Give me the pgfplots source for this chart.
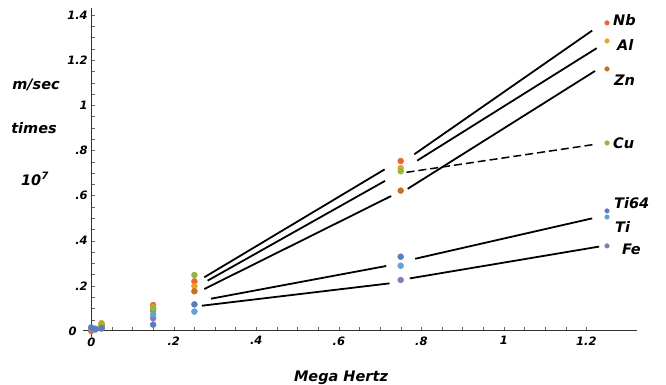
\documentclass[border=0pt]{standalone}
\usepackage{fontspec}
\setmainfont{DejaVu Sans}
\usepackage{pgfplots}
\pgfplotsset{compat=1.18}
\definecolor{cNb}{HTML}{EC6536}
\definecolor{cAl}{HTML}{E9A226}
\definecolor{cZn}{HTML}{C9701E}
\definecolor{cCu}{HTML}{92B63F}
\definecolor{cTi64}{HTML}{5B7DBE}
\definecolor{cTi}{HTML}{5DA5D6}
\definecolor{cFe}{HTML}{8B78B8}
\begin{document}
\begin{tikzpicture}[x=1pt,y=1pt]
\path[use as bounding box] (-83,-48) rectangle (583,337);
\begin{axis}[at={(0,0)}, anchor=south west, scale only axis,
  width=554pt, height=329pt,
  xmin=-0.02, xmax=1.3227, ymin=-0.0266, ymax=1.4311,
  axis lines=middle, axis line style={-, line width=1pt, black!80},
  xtick={0,0.2,0.4,0.6,0.8,1,1.2},
  xticklabels={0,.2,.4,.6,.8,1,1.2},
  ytick={0,0.2,0.4,0.6,0.8,1,1.2,1.4},
  yticklabels={0,.2,.4,.6,.8,1,1.2,1.4},
  minor x tick num=3, minor y tick num=3,
  tick align=inside, tick style={black!60, line width=0.4pt},
  major tick length=4pt, minor tick length=4pt,
  /pgf/number format/assume math mode=true,
  ticklabel style={font=\bfseries\itshape\fontsize{11.5}{13}\selectfont},
  xticklabel style={yshift=-2pt},
  clip=false,
  every axis plot/.append style={mark=*, only marks, mark size=3pt},
]
% Nb
\addplot[cNb, mark options={fill=cNb, draw=cNb}] coordinates {(0,0.0) (0.025,0.02) (0.15,0.115) (0.25,0.220) (0.75,0.753)};
% Al
\addplot[cAl, mark options={fill=cAl, draw=cAl}] coordinates {(0.025,0.035) (0.15,0.105) (0.25,0.199) (0.75,0.722)};
% Zn
\addplot[cZn, mark options={fill=cZn, draw=cZn}] coordinates {(0.025,0.025) (0.15,0.092) (0.25,0.176) (0.75,0.622)};
% Cu
\addplot[cCu, mark options={fill=cCu, draw=cCu}] coordinates {(0.025,0.03) (0.15,0.100) (0.25,0.248) (0.75,0.708)};
% Fe
\addplot[cFe, mark options={fill=cFe, draw=cFe}] coordinates {(0.15,0.056) (0.75,0.226)};
% Ti
\addplot[cTi, mark options={fill=cTi, draw=cTi}] coordinates {(0,0.012) (0.01,0.006) (0.025,0.01) (0.15,0.074) (0.25,0.086) (0.75,0.289)};
% Ti64
\addplot[cTi64, mark options={fill=cTi64, draw=cTi64}] coordinates {(0,0.016) (0.01,0.01) (0.025,0.013) (0.15,0.028) (0.25,0.118) (0.75,0.329)};
% points at 1.25 (smaller)
\addplot[cNb, mark size=2.3pt, mark options={fill=cNb, draw=cNb}] coordinates {(1.25,1.365)};
\addplot[cAl, mark size=2.3pt, mark options={fill=cAl, draw=cAl}] coordinates {(1.25,1.285)};
\addplot[cZn, mark size=2.3pt, mark options={fill=cZn, draw=cZn}] coordinates {(1.25,1.161)};
\addplot[cCu, mark size=2.3pt, mark options={fill=cCu, draw=cCu}] coordinates {(1.25,0.833)};
\addplot[cTi64, mark size=2.3pt, mark options={fill=cTi64, draw=cTi64}] coordinates {(1.25,0.532)};
\addplot[cTi, mark size=2.3pt, mark options={fill=cTi, draw=cTi}] coordinates {(1.25,0.505)};
\addplot[cFe, mark size=2.3pt, mark options={fill=cFe, draw=cFe}] coordinates {(1.25,0.377)};
% line segments
\addplot[black, no marks, sharp plot, line width=1.8pt] coordinates {(0.274,0.238) (0.711,0.716)};
\addplot[black, no marks, sharp plot, line width=1.8pt] coordinates {(0.282,0.223) (0.712,0.665)};
\addplot[black, no marks, sharp plot, line width=1.8pt] coordinates {(0.274,0.186) (0.727,0.598)};
\addplot[black, no marks, sharp plot, line width=1.8pt] coordinates {(0.290,0.143) (0.715,0.288)};
\addplot[black, no marks, sharp plot, line width=1.8pt] coordinates {(0.268,0.112) (0.723,0.211)};
\addplot[black, no marks, sharp plot, line width=1.8pt] coordinates {(0.783,0.783) (1.214,1.331)};
\addplot[black, no marks, sharp plot, line width=1.8pt] coordinates {(0.790,0.755) (1.225,1.253)};
\addplot[black, no marks, sharp plot, line width=1.8pt] coordinates {(0.767,0.630) (1.221,1.152)};
\addplot[black, no marks, sharp plot, line width=1.5pt, dash pattern=on 8pt off 4pt] coordinates {(0.764,0.703) (1.221,0.827)};
\addplot[black, no marks, sharp plot, line width=1.8pt] coordinates {(0.785,0.320) (1.214,0.499)};
\addplot[black, no marks, sharp plot, line width=1.8pt] coordinates {(0.772,0.233) (1.231,0.374)};
\node[font=\bfseries\itshape\fontsize{11.5}{13}\selectfont, anchor=east, inner sep=0pt] at (axis cs:-0.035,0) {0};
\node[font=\bfseries\itshape\fontsize{11.5}{13}\selectfont, anchor=north, inner sep=0pt] at (axis cs:0,-0.03) {0};
\end{axis}
\begin{scope}[every node/.style={font=\bfseries\itshape\fontsize{14.5}{16}\selectfont, anchor=west, inner sep=0pt}]
\node at (530,317) {Nb};
\node at (534,292) {Al};
\node at (531,257) {Zn};
\node at (530,194) {Cu};
\node at (531,134) {Ti64};
\node at (532,110) {Ti};
\node at (539,88) {Fe};
\end{scope}
\begin{scope}[every node/.style={font=\bfseries\itshape\fontsize{14.5}{16}\selectfont, inner sep=0pt}]
\node at (-47,252) {m/sec};
\node at (-49,209) {times};
\node at (-48,158) {10\textsuperscript{7}};
\node at (258,-41) {Mega Hertz};
\end{scope}
\end{tikzpicture}
\end{document}
